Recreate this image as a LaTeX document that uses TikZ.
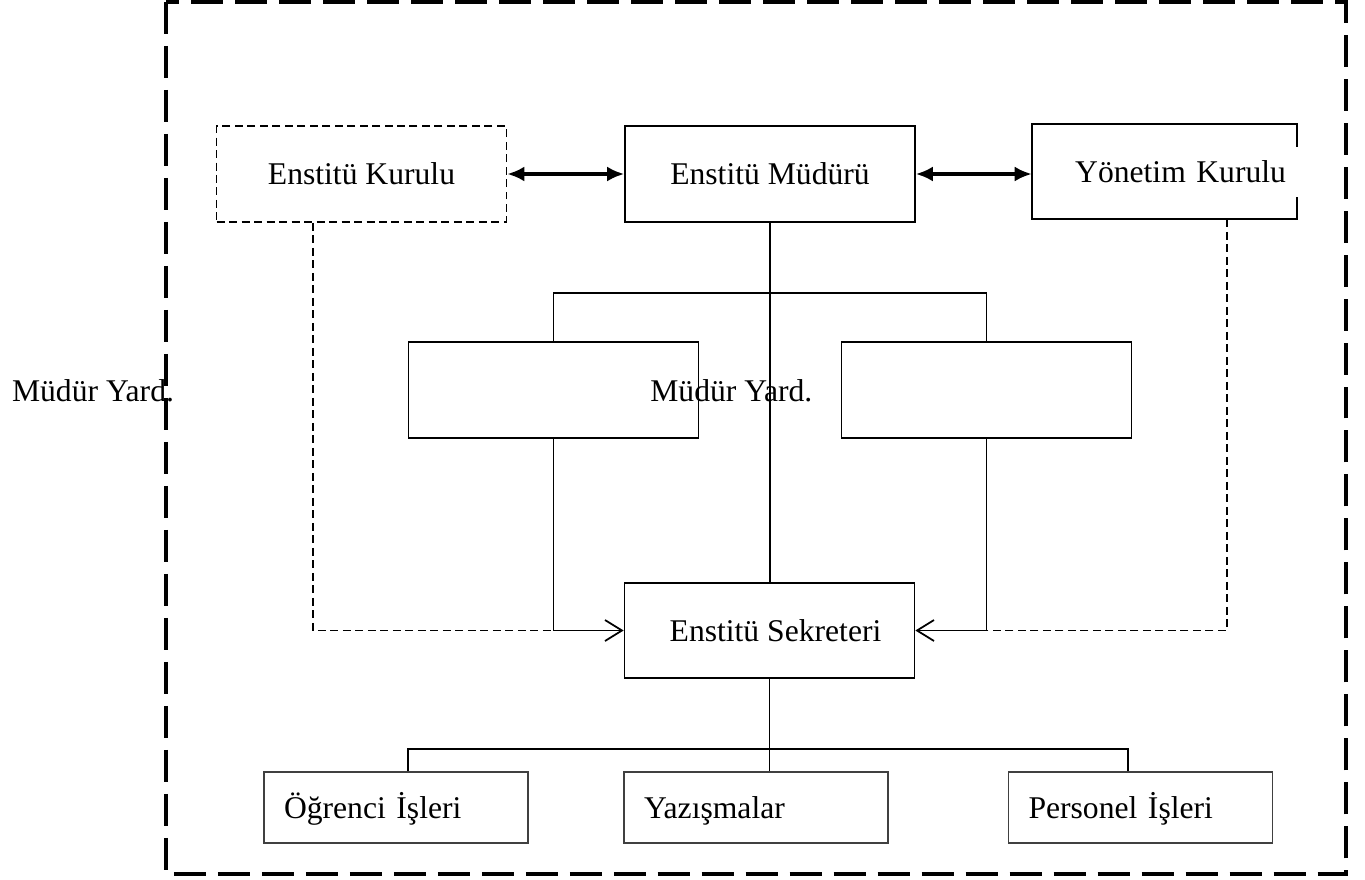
\documentclass[tikz,border=0pt]{standalone}
\usepackage{fontspec}
\setmainfont{Liberation Serif}
\usetikzlibrary{arrows.meta}

\begin{document}
\begin{tikzpicture}[x=0.02cm,y=-0.02cm,
	every node/.style={font=\fontsize{18}{20}\selectfont},
	box/.style={draw,line width=1pt,inner sep=0pt,minimum width=5.8cm,minimum height=1.92cm},
	dashbox/.style={box,dash pattern=on 0.16cm off 0.09cm},
	unitbox/.style={draw=black!75,line width=1pt,inner ysep=0pt,inner xsep=0.4cm,
		text width=4.48cm,align=left,minimum height=1.42cm,
		execute at begin node={\rule[-5pt]{0pt}{22pt}}},
	link/.style={line width=1pt},
	dashlink/.style={line width=0.8pt,dash pattern=on 0.16cm off 0.09cm},
	both/.style={line width=1.8pt,{Latex[length=0.34cm,width=0.3cm]}-{Latex[length=0.34cm,width=0.3cm]}},
	barb/.style={link,-{Straight Barb[length=0.34cm,width=0.42cm]}},
	frame/.style={line width=2.3pt,dash pattern=on 0.64cm off 0.24cm}]
	\useasboundingbox (0,0) rectangle (1365,879);
	\draw[frame] (166,2) rectangle (1346,874);

	\node[dashbox] (kurulu) at (361.5,174) {Enstitü Kurulu};
	\node[box] (mudur) at (770,174) {Enstitü Müdürü};
	\node[inner ysep=0pt,inner xsep=0.22cm,text width=4.86cm,align=right,minimum height=1.9cm] (yonetim) at (1164.5,171.5) {Yönetim Kurulu};
	\draw[link] ([yshift=-0.46cm]yonetim.north east) -- (yonetim.north east) -- (yonetim.north west)
		-- (yonetim.south west) -- (yonetim.south east) -- ([yshift=0.44cm]yonetim.south east);

	\node[box] (yardL) at (553.5,390) {};
	\node[box] (yardR) at (986.5,390) {};
	\node[inner sep=0pt] (yardtxtL) at (93,391) {Müdür Yard.};
	\node[inner sep=0pt,anchor=west] (yardtxtC) at (650,391) {Müdür Yard.};

	\node[box,minimum height=1.9cm] (sekreter) at (769.5,630.5) {\hspace{0.24cm}Enstitü Sekreteri};

	\node[unitbox] (ogrenci) at (396,807.5) {Öğrenci İşleri};
	\node[unitbox] (yazisma) at (756,807.5) {Yazışmalar};
	\node[unitbox] (personel) at (1140.5,807.5) {Personel İşleri};

	\draw[both] (kurulu.east) -- (mudur.west);
	\draw[both] (mudur.east) -- (mudur.east -| yonetim.west);

	\draw[link] (mudur.south) -- (mudur.south |- sekreter.north);
	\draw[link] (yardL.north) -- ++(0,-48) -| (yardR.north);
	\draw[barb] (yardL.south) |- (sekreter.west);
	\draw[barb] (yardR.south) |- (sekreter.east);
	\draw[dashlink] ([xshift=-0.97cm]kurulu.south) |- (yardL.south |- sekreter.west);
	\draw[dashlink] ([xshift=1.25cm]yonetim.south) |- (yardR.south |- sekreter.east);

	\draw[link] (sekreter.south) -- (sekreter.south |- yazisma.north);
	\draw[link] ([xshift=0.24cm]ogrenci.north) -- ++(0,-22) -| ([xshift=-0.25cm]personel.north);
\end{tikzpicture}
\end{document}
